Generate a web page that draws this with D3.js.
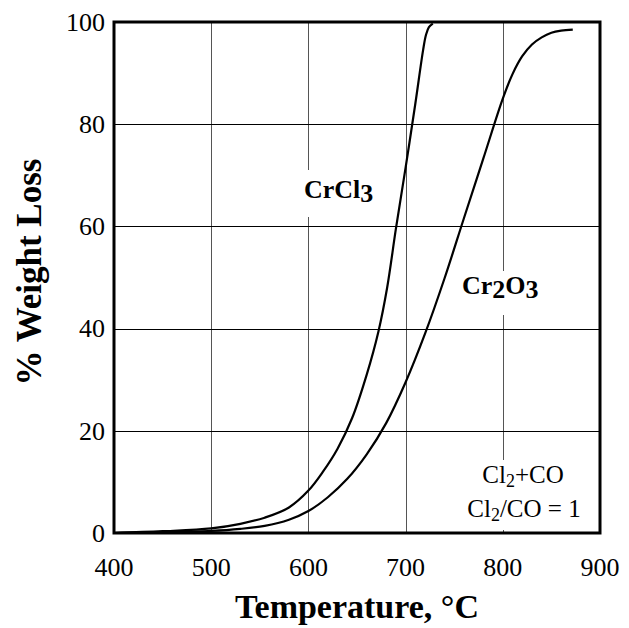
<!DOCTYPE html>
<html>
<head>
<meta charset="utf-8">
<script src="https://cdn.jsdelivr.net/npm/d3@7"></script>
<style>
  body { margin: 0; background: #fff; }
  text { font-family: "Liberation Serif", "Times New Roman", serif; }
</style>
</head>
<body>
<svg id="chart" width="629" height="628"></svg>
<script>
// weight loss curves
const crcl3Temp = [400, 450, 500, 530, 555, 580, 600, 615, 630, 645, 660, 672, 681, 690, 700, 710, 718, 721, 724, 728];
const crcl3Loss = [0, 0.35, 0.9, 1.8, 3.0, 5.0, 8.3, 12.0, 16.5, 22.5, 31, 39.4, 48, 59.5, 71.5, 84, 94.5, 97.5, 99.0, 99.7];

const cr2o3Temp = [400, 450, 500, 530, 555, 580, 600, 620, 640, 660, 680, 700, 720, 740, 760, 780, 800, 810, 820, 830, 840, 850, 860, 872];
const cr2o3Loss = [0, 0.15, 0.4, 0.8, 1.4, 2.6, 4.3, 7.0, 10.6, 15.4, 21.5, 29.5, 39, 49.8, 61.6, 73.3, 85.0, 89.8, 93.3, 95.6, 97.0, 97.9, 98.3, 98.5];

const xTicks = [400, 500, 600, 700, 800, 900];
const yTicks = [0, 20, 40, 60, 80, 100];

const margin = { top: 22, left: 114 };
const width = 486, height = 511;

const svg = d3.select('#chart');
const g = svg.append('g').attr('transform', `translate(${margin.left},${margin.top})`);

const x = d3.scaleLinear().domain([400, 900]).range([0, width]);
const y = d3.scaleLinear().domain([0, 100]).range([height, 0]);

// grid
g.selectAll('.vgrid')
  .data(xTicks.slice(1, -1))
  .enter()
  .append('line')
  .attr('x1', (d) => Math.round(x(d)) + 0.5)
  .attr('x2', (d) => Math.round(x(d)) + 0.5)
  .attr('y1', 0)
  .attr('y2', height)
  .attr('stroke', '#555')
  .attr('stroke-width', 1);

g.selectAll('.hgrid')
  .data(yTicks.slice(1, -1))
  .enter()
  .append('line')
  .attr('x1', 0)
  .attr('x2', width)
  .attr('y1', (d) => Math.round(y(d)) + 0.5)
  .attr('y2', (d) => Math.round(y(d)) + 0.5)
  .attr('stroke', '#000')
  .attr('stroke-width', 1);

// white boxes behind the labels (they cut the grid lines)
const boxes = [
  { x: 188, y: 148, w: 76, h: 47 },
  { x: 346, y: 249, w: 82, h: 44 },
  { x: 350, y: 438, w: 132, h: 70 },
];
g.selectAll('.box')
  .data(boxes)
  .enter()
  .append('rect')
  .attr('x', (d) => d.x)
  .attr('y', (d) => d.y)
  .attr('width', (d) => d.w)
  .attr('height', (d) => d.h)
  .attr('fill', '#fff');

// curves
const line = d3
  .line()
  .x((d) => x(d[0]))
  .y((d) => y(d[1]))
  .curve(d3.curveCatmullRom.alpha(0.5));

g.append('path')
  .attr('d', line(d3.zip(crcl3Temp, crcl3Loss)))
  .attr('fill', 'none')
  .attr('stroke', '#000')
  .attr('stroke-width', 2.2);

g.append('path')
  .attr('d', line(d3.zip(cr2o3Temp, cr2o3Loss)))
  .attr('fill', 'none')
  .attr('stroke', '#000')
  .attr('stroke-width', 2.2);

// frame
g.append('rect')
  .attr('x', 0)
  .attr('y', 0)
  .attr('width', width)
  .attr('height', height)
  .attr('fill', 'none')
  .attr('stroke', '#000')
  .attr('stroke-width', 3);

// tick labels
g.selectAll('.xlab')
  .data(xTicks)
  .enter()
  .append('text')
  .attr('x', (d) => x(d))
  .attr('y', height + 43)
  .attr('text-anchor', 'middle')
  .style('font-size', '26px')
  .text((d) => d);

g.selectAll('.ylab')
  .data(yTicks)
  .enter()
  .append('text')
  .attr('x', -9)
  .attr('y', (d) => y(d))
  .attr('dy', '0.34em')
  .attr('text-anchor', 'end')
  .style('font-size', '26px')
  .text((d) => d);

// axis titles
svg.append('text')
  .attr('x', margin.left + width / 2)
  .attr('y', 618)
  .attr('text-anchor', 'middle')
  .style('font-size', '34px')
  .style('font-weight', 'bold')
  .text('Temperature, °C');

svg.append('text')
  .attr('transform', `translate(41,272) rotate(-90)`)
  .attr('text-anchor', 'middle')
  .style('font-size', '35px')
  .style('font-weight', 'bold')
  .text('% Weight Loss');

// curve labels
const crcl3 = g.append('text')
  .attr('x', 190)
  .attr('y', 176)
  .style('font-size', '26px')
  .style('font-weight', 'bold');
crcl3.append('tspan').text('CrCl');
crcl3.append('tspan').attr('dy', 4).text('3');

const cr2o3 = g.append('text')
  .attr('x', 348)
  .attr('y', 272)
  .style('font-size', '26px')
  .style('font-weight', 'bold');
cr2o3.append('tspan').text('Cr');
cr2o3.append('tspan').attr('dy', 4).text('2');
cr2o3.append('tspan').attr('dy', -4).text('O');
cr2o3.append('tspan').attr('dy', 4).text('3');

// gas note
const note1 = g.append('text')
  .attr('x', 409)
  .attr('y', 461)
  .attr('text-anchor', 'middle')
  .style('font-size', '25px');
note1.append('tspan').text('Cl');
note1.append('tspan').attr('dy', 4).style('font-size', '18px').text('2');
note1.append('tspan').attr('dy', -4).text('+CO');

const note2 = g.append('text')
  .attr('x', 410)
  .attr('y', 495)
  .attr('text-anchor', 'middle')
  .style('font-size', '25px');
note2.append('tspan').text('Cl');
note2.append('tspan').attr('dy', 4).style('font-size', '18px').text('2');
note2.append('tspan').attr('dy', -4).text('/CO = 1');
</script>
</body>
</html>
